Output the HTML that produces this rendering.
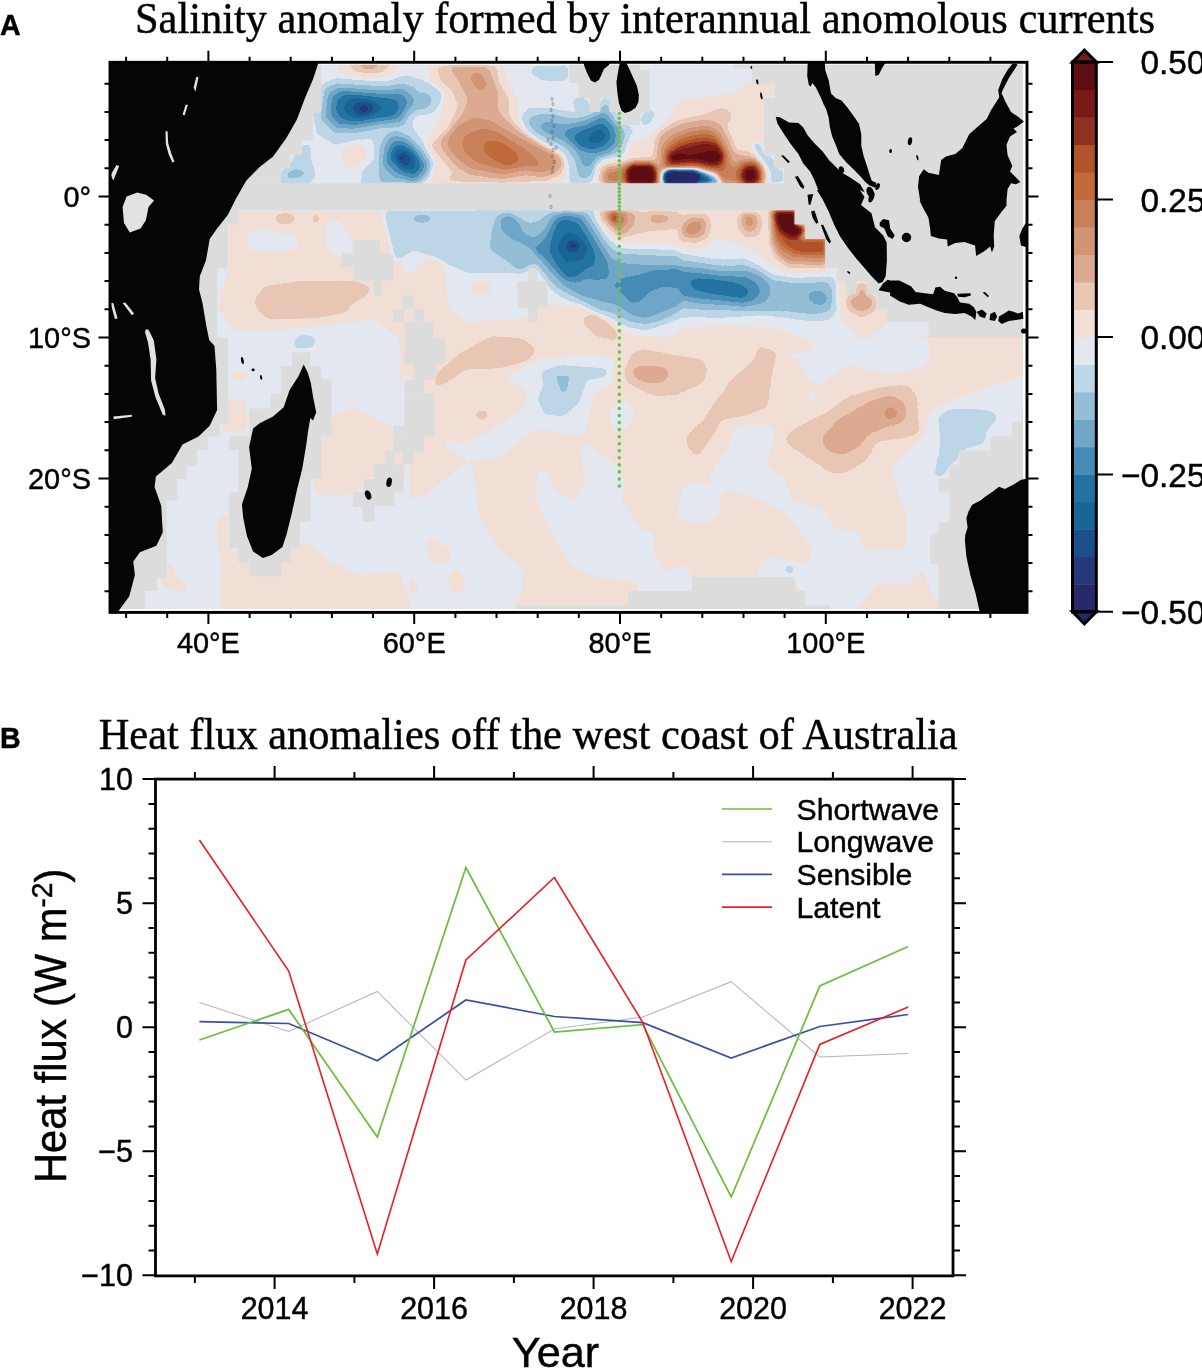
<!DOCTYPE html>
<html><head><meta charset="utf-8"><title>Figure</title>
<style>html,body{margin:0;padding:0;background:#fff;}svg{display:block;}text{font-family:"Liberation Sans",sans-serif;fill:#000;stroke:#000;stroke-width:0.45px;opacity:0.999;}.ser{font-family:"Liberation Serif",serif;}</style></head><body>
<svg width="1202" height="1371" viewBox="0 0 1202 1371">
<defs>
<filter id="cm" x="0" y="0" width="100%" height="100%" filterUnits="userSpaceOnUse" color-interpolation-filters="sRGB">
<feComponentTransfer>
<feFuncR type="discrete" tableValues="0.1529 0.1451 0.1059 0.0902 0.1333 0.2745 0.4392 0.5843 0.7373 0.8902 0.9490 0.9098 0.8627 0.8235 0.7882 0.7529 0.6902 0.5608 0.4784 0.3686"/>
<feFuncG type="discrete" tableValues="0.1569 0.2196 0.3059 0.3922 0.4510 0.5451 0.6549 0.7412 0.8431 0.9098 0.8745 0.7843 0.6667 0.5804 0.5020 0.4196 0.3216 0.1843 0.1020 0.0549"/>
<feFuncB type="discrete" tableValues="0.4157 0.4784 0.5412 0.5882 0.6392 0.7098 0.7843 0.8431 0.9059 0.9373 0.8353 0.7020 0.5686 0.4588 0.3490 0.2157 0.1647 0.1294 0.0863 0.0706"/>
</feComponentTransfer>
<feGaussianBlur stdDeviation="0.6"/>
</filter>
<filter id="b1_5" x="-50" y="-50" width="1300" height="800" filterUnits="userSpaceOnUse" color-interpolation-filters="sRGB"><feGaussianBlur stdDeviation="1.5"/></filter>
<filter id="b2" x="-50" y="-50" width="1300" height="800" filterUnits="userSpaceOnUse" color-interpolation-filters="sRGB"><feGaussianBlur stdDeviation="2"/></filter>
<filter id="b2_5" x="-50" y="-50" width="1300" height="800" filterUnits="userSpaceOnUse" color-interpolation-filters="sRGB"><feGaussianBlur stdDeviation="2.5"/></filter>
<filter id="b3" x="-50" y="-50" width="1300" height="800" filterUnits="userSpaceOnUse" color-interpolation-filters="sRGB"><feGaussianBlur stdDeviation="3"/></filter>
<filter id="b4" x="-50" y="-50" width="1300" height="800" filterUnits="userSpaceOnUse" color-interpolation-filters="sRGB"><feGaussianBlur stdDeviation="4"/></filter>
<filter id="b6" x="-50" y="-50" width="1300" height="800" filterUnits="userSpaceOnUse" color-interpolation-filters="sRGB"><feGaussianBlur stdDeviation="6"/></filter>
<filter id="b8" x="-50" y="-50" width="1300" height="800" filterUnits="userSpaceOnUse" color-interpolation-filters="sRGB"><feGaussianBlur stdDeviation="8"/></filter>
<clipPath id="mapclip"><rect x="110.0" y="62.3" width="917.0" height="550.1"/></clipPath>
<clipPath id="dataclip"><rect x="110.0" y="64.8" width="913.0" height="544.2"/></clipPath>
</defs>
<rect x="0" y="0" width="1202" height="1371" fill="#fff"/>
<g clip-path="url(#dataclip)">
<g filter="url(#cm)"><rect x="105.0" y="57.3" width="927.0" height="560.1" fill="#797979"/><g filter="url(#b2_5)"><polygon points="238.3,211.5 383.7,211.5 393.3,249.8 408.6,276.5 425.8,257.4 444.9,265.1 448.8,309.1 467.9,322.5 525.3,318.6 536.8,303.3 582.7,309.1 617.1,328.2 660.0,332.0 660.0,437.3 632.5,429.6 621.0,406.7 605.7,418.1 582.7,437.3 536.8,429.6 536.8,372.2 521.5,379.9 483.2,379.9 444.9,387.5 429.6,391.4 414.3,368.4 399.0,383.7 400.9,360.7 399.0,337.8 372.2,318.6 326.3,326.3 276.5,330.1 234.4,330.1 217.2,307.2 228.7,268.9 228.7,223.0" fill="#868686"/><polygon points="245.9,234.4 265.1,228.7 295.7,236.4 299.5,247.8 276.5,251.7 247.8,249.8" fill="#797979"/><polygon points="326.3,223.0 337.8,219.1 353.1,242.1 349.3,257.4 330.1,253.6 324.4,238.3" fill="#797979"/><polygon points="467.9,286.1 479.4,281.1 490.9,286.1 488.9,293.8 473.6,295.7" fill="#797979"/><polygon points="326.3,429.6 333.9,414.3 353.1,406.7 391.4,425.8 395.2,444.9 406.7,464.1 402.8,490.9 372.2,475.5 353.1,494.7 314.8,494.7 312.9,467.9" fill="#868686"/><polygon points="223.0,552.1 295.7,544.4 307.2,540.6 326.3,559.7 360.7,575.0 399.0,571.2 408.6,598.0 418.1,590.4 410.5,609.5 219.1,609.5" fill="#868686"/><polygon points="467.9,464.1 475.5,460.2 506.2,452.6 533.0,429.6 582.7,437.3 605.7,418.1 621.0,406.7 632.5,429.6 660.0,444.9 660.0,582.7 640.1,578.9 582.7,544.4 563.6,506.2 544.4,467.9 536.8,490.9 544.4,525.3 575.0,563.6 601.8,582.7 632.5,590.4 621.0,609.5 517.6,609.5 506.2,544.4 483.2,498.5" fill="#868686"/><polygon points="471.7,464.1 444.9,490.9 422.0,517.6 416.2,502.3 429.6,483.2 464.1,464.1" fill="#868686"/><polygon points="425.8,536.8 448.8,544.4 464.1,559.7 460.2,590.4 448.8,594.2 444.9,567.4 429.6,555.9" fill="#868686"/><polygon points="230.6,372.2 245.9,372.2 245.9,381.8 232.5,379.9" fill="#868686"/><polygon points="223.0,399.0 245.9,399.0 247.8,429.6 223.0,433.4" fill="#868686"/><polygon points="159.9,577.6 169.2,559.0 177.2,577.6 187.9,585.6 185.2,592.2 166.6,589.6" fill="#868686"/><polygon points="217.1,516.4 227.8,513.7 227.8,551.0 222.5,569.6 217.1,543.0" fill="#868686"/><polygon points="410.0,330.0 730.0,330.0 730.0,608.2 410.0,608.2" fill="#868686"/><polygon points="505.8,377.9 535.1,359.3 596.4,354.0 615.0,359.3 612.3,383.2 593.7,393.9 585.7,431.2 575.1,436.5 537.8,428.5 497.9,457.8 468.6,460.5 444.6,447.1 447.3,437.8 460.6,444.5 489.9,431.2 524.5,407.2 527.1,391.2" fill="#797979"/><polygon points="410.0,500.4 426.0,495.1 441.9,481.8 467.2,461.8 473.9,468.4 479.2,516.4 497.9,548.3 524.5,569.6 521.8,590.9 512.5,608.2 410.0,608.2 410.0,593.6 420.6,592.2 410.0,569.6" fill="#797979"/><polygon points="426.0,535.0 449.9,548.3 452.6,559.0 441.9,564.3 428.6,559.0" fill="#868686"/><polygon points="447.3,577.6 457.9,567.0 465.9,580.3 463.2,593.6 452.6,593.6" fill="#868686"/><polygon points="537.8,468.4 548.4,473.8 553.8,489.7 575.1,501.7 585.7,479.1 579.1,452.5 583.1,441.8 617.7,465.8 625.7,484.4 620.3,497.7 639.0,527.0 654.9,535.0 652.3,551.0 665.6,572.3 684.2,564.3 692.2,574.9 692.2,608.2 631.0,608.2 639.0,582.9 596.4,577.6 569.7,564.3 548.4,527.0 535.1,497.7" fill="#797979"/><polygon points="609.7,409.9 623.0,400.6 636.3,409.9 628.3,425.8 617.7,432.5 609.7,420.5" fill="#797979"/><polygon points="676.2,516.4 681.6,489.7 692.2,481.8 718.8,487.1 721.5,513.7 702.9,524.4" fill="#797979"/><polygon points="623.0,330.0 710.9,330.0 702.9,338.0 636.3,335.3" fill="#797979"/><polygon points="720.0,330.0 1026.2,330.0 1026.2,610.9 720.0,610.9" fill="#868686"/><polygon points="781.2,330.0 927.7,330.0 930.3,356.6 922.3,367.3 890.4,375.3 847.8,364.6 818.5,385.9 807.9,380.6 799.9,361.9 786.6,354.0 815.8,351.3 807.9,340.6" fill="#797979"/><polygon points="733.3,429.8 740.0,425.0 771.4,425.0 774.8,433.3 771.4,449.8 766.6,459.9 769.8,469.8 784.7,478.3 786.6,484.4 791.9,500.4 826.5,511.0 831.8,527.0 858.4,532.3 863.8,551.0 906.4,548.3 906.4,516.4 890.4,468.4 906.4,452.5 922.3,436.5 930.3,409.9 959.6,396.6 1026.2,375.3 1026.2,463.1 975.6,463.1 959.6,495.1 951.6,495.1 949.0,521.7 930.3,535.0 930.3,564.3 938.3,564.3 938.3,610.9 922.3,569.6 906.4,585.6 877.1,582.9 858.4,606.9 805.2,610.9 794.5,577.6 754.6,576.3 765.3,556.3 807.9,564.3 813.2,548.3 786.6,513.7 759.9,500.4 744.0,495.1 728.0,489.7 717.3,500.4 709.4,479.1 714.9,465.0 726.7,451.4 731.4,438.1" fill="#797979"/><polygon points="807.9,393.9 813.2,389.9 815.8,399.2 810.5,403.2" fill="#797979"/><polygon points="426.0,255.0 441.9,252.3 447.3,289.6 439.3,339.9 410.0,339.9 410.0,289.6" fill="#868686"/><polygon points="468.6,284.3 487.2,281.6 489.9,292.3 471.2,294.9" fill="#868686"/><polygon points="551.1,310.9 580.4,304.3 612.3,316.2 617.7,339.9 551.1,339.9" fill="#868686"/><polygon points="676.2,329.6 730.0,324.2 730.0,339.9 676.2,339.9" fill="#868686"/></g><g filter="url(#b4)"><polygon points="596.4,209.7 713.5,209.7 713.5,233.7 676.2,244.4 631.0,244.4 601.7,236.4" fill="#868686"/><polygon points="720.0,209.7 826.5,209.7 826.5,271.0 773.2,268.3 759.9,252.3 736.0,241.7 720.0,236.4" fill="#868686"/></g><g filter="url(#b2_5)"><polygon points="839.8,281.6 887.7,281.6 887.7,321.6 879.7,332.2 853.1,332.2 839.8,316.2" fill="#868686"/><polygon points="839.8,336.2 1026.2,336.2 1026.2,339.9 839.8,339.9" fill="#868686"/></g><g filter="url(#b4)"><polygon points="631.0,185.0 634.0,150.0 660.0,130.0 700.0,106.0 730.0,100.0 765.0,103.0 765.0,185.0" fill="#868686"/><polygon points="342.3,153.8 352.9,145.8 366.2,147.2 364.9,159.2 350.3,167.1 342.8,163.2" fill="#868686"/><polygon points="426.0,183.1 428.6,137.9 439.3,116.6 444.6,76.6 436.6,64.6 497.9,64.6 516.5,103.2 537.8,137.9 567.1,156.5 569.7,172.5 559.1,183.1" fill="#868686"/></g><g filter="url(#b2_5)"><polygon points="336.6,70.0 341.6,60.0 401.5,60.0 394.8,73.3 379.8,78.3 359.9,76.6 341.6,74.1" fill="#868686"/><polygon points="347.4,60.0 394.0,60.0 383.2,72.5 366.5,73.3 353.2,70.8" fill="#939393"/><polygon points="357.4,60.0 382.3,60.0 373.2,69.7 363.2,69.2" fill="#9f9f9f"/><polygon points="342.4,153.2 346.6,148.2 359.9,144.9 366.5,147.4 363.2,158.2 354.9,166.5 344.9,166.5" fill="#868686"/><polygon points="426.7,65.0 503.2,65.0 506.5,85.0 516.5,98.3 514.8,114.9 526.5,131.5 543.1,143.2 563.1,153.2 570.6,163.2 563.9,176.5 549.8,184.0 445.0,184.0 441.6,166.5 425.0,146.5 438.3,129.9 451.6,104.9 446.6,93.3 430.0,81.6" fill="#868686"/><polygon points="436.6,65.0 496.5,65.0 499.9,85.0 509.9,99.9 508.2,114.9 519.8,129.9 539.8,141.5 561.4,153.2 566.8,163.2 560.1,174.8 546.5,181.0 503.2,183.1 469.9,183.1 446.6,180.1 453.3,173.1 445.0,163.2 430.0,144.9 446.6,129.9 458.3,106.6 453.3,91.6 440.0,80.0" fill="#939393"/><polygon points="448.3,65.0 486.6,65.0 493.2,80.0 498.2,93.3 498.2,111.6 513.2,126.6 533.1,138.2 556.4,153.2 563.1,163.2 556.4,173.1 543.1,177.3 526.5,174.8 503.2,179.0 483.2,176.5 469.9,174.8 456.6,166.5 441.6,148.2 440.0,139.9 450.0,129.9 463.3,113.2 468.3,98.3 459.9,83.3" fill="#9f9f9f"/><polygon points="470.7,75.0 476.6,71.6 484.1,76.6 486.6,85.0 483.2,91.6 476.6,89.1 471.6,81.6" fill="#acacac"/><polygon points="448.3,138.2 456.6,126.6 473.2,117.4 489.9,119.9 506.5,129.9 526.5,141.5 549.8,153.2 558.1,161.5 553.1,169.8 539.8,173.1 523.2,169.8 503.2,174.8 486.6,171.5 469.9,168.2 456.6,158.2 447.5,146.5" fill="#acacac"/><polygon points="461.6,139.9 468.3,133.2 483.2,128.2 496.5,131.5 513.2,141.5 526.5,149.9 536.5,158.2 539.8,166.5 526.5,166.5 506.5,169.8 489.9,166.5 474.9,161.5 464.1,151.5" fill="#b9b9b9"/><polygon points="482.4,144.9 488.2,139.9 499.9,141.5 513.2,149.9 519.8,156.5 516.5,163.2 506.5,166.5 493.2,159.8 484.9,153.2" fill="#c6c6c6"/><polygon points="313.3,113.2 321.6,85.0 334.9,78.3 359.9,80.0 386.5,81.6 406.5,75.0 423.1,81.6 439.7,91.6 441.4,99.9 429.8,108.3 416.4,113.2 411.4,126.6 426.4,146.5 434.7,163.2 429.8,176.5 419.8,184.0 359.9,184.0 363.2,169.8 374.8,159.8 373.2,138.2 354.9,139.9 334.9,144.9 316.6,133.2" fill="#6c6c6c"/><polygon points="320.8,119.9 324.1,88.3 336.6,83.3 359.9,85.0 383.2,86.6 403.1,83.3 421.4,90.0 431.4,99.9 418.1,109.9 408.1,116.6 403.1,126.6 379.8,128.2 354.9,133.2 334.9,133.2" fill="#606060"/><polygon points="324.9,116.6 328.3,93.3 338.2,87.5 359.9,89.1 383.2,90.8 403.1,89.1 416.4,99.9 406.5,111.6 401.5,121.6 379.8,124.1 354.9,128.2 336.6,128.2" fill="#535353"/><polygon points="329.9,113.2 332.4,96.6 341.6,90.8 359.9,92.4 383.2,94.1 401.5,93.3 408.1,101.6 403.1,113.2 396.5,119.1 379.8,120.7 354.9,124.9 338.2,124.1" fill="#464646"/><polygon points="335.7,109.9 337.4,99.1 346.6,94.1 363.2,95.8 383.2,97.4 398.1,99.9 399.0,109.9 393.1,116.6 379.8,118.2 354.9,121.6 341.6,119.1" fill="#393939"/><polygon points="343.2,108.3 345.7,100.8 354.9,97.4 369.9,99.1 379.8,104.9 383.2,108.3 373.2,114.9 359.9,119.1 348.2,115.7" fill="#2d2d2d"/><polygon points="351.5,108.3 354.9,103.3 364.9,101.6 373.2,105.8 374.8,109.1 368.2,114.1 358.2,115.7" fill="#202020"/><ellipse cx="364.5" cy="108.8" rx="5.7" ry="4.3" fill="#131313"/><polygon points="378.2,169.8 379.8,146.5 386.5,133.2 396.5,130.7 408.1,134.9 421.4,148.2 431.4,163.2 428.1,176.5 418.1,184.0 379.8,184.0" fill="#606060"/><polygon points="383.2,166.5 384.0,148.2 389.8,137.4 398.1,135.7 408.1,139.9 419.8,151.5 428.1,164.8 424.8,174.8 414.8,181.5 393.1,176.5" fill="#535353"/><polygon points="386.5,163.2 387.3,149.9 393.1,141.5 401.5,140.7 411.4,146.5 419.8,156.5 424.8,166.5 421.4,173.1 413.1,179.0 396.5,173.1" fill="#464646"/><polygon points="390.6,159.8 391.5,150.7 396.5,144.9 403.1,144.9 413.1,151.5 419.8,161.5 420.6,168.2 414.8,174.8 403.1,171.5" fill="#393939"/><polygon points="394.0,158.2 394.8,151.5 399.8,148.2 406.5,149.9 414.8,158.2 416.4,166.5 411.4,170.6 403.1,168.2" fill="#2d2d2d"/><ellipse cx="404.5" cy="159.3" rx="6.0" ry="7.3" fill="#202020" transform="rotate(-35 404.5 159.3)"/></g><g filter="url(#b1_5)"><ellipse cx="401.5" cy="158.2" rx="2.3" ry="2.3" fill="#131313"/></g><g filter="url(#b2_5)"><polygon points="280.0,176.5 281.7,169.8 290.0,166.5 293.3,158.2 301.6,146.5 306.6,143.2 310.8,146.5 310.0,156.5 313.3,166.5 315.8,174.8 310.0,184.0 280.0,184.0" fill="#6c6c6c"/><polygon points="286.7,173.1 296.6,168.2 306.6,172.3 301.6,177.3 287.5,179.0" fill="#606060"/><polygon points="416.7,83.3 430.0,85.0 441.6,94.9 436.6,109.9 425.0,114.9 416.7,114.9" fill="#6c6c6c"/><polygon points="416.7,91.6 428.3,93.3 432.5,99.9 428.3,108.3 416.7,109.9" fill="#606060"/><polygon points="529.0,71.6 536.5,65.8 568.1,65.8 568.1,78.3 561.4,81.6 541.5,80.0" fill="#6c6c6c"/><polygon points="519.0,116.6 528.2,108.3 544.8,107.4 569.8,111.6 579.7,114.9 572.2,103.3 576.4,97.4 586.4,99.1 591.4,108.3 599.7,108.3 601.4,98.3 609.7,98.3 611.3,109.9 617.2,109.9 600.0,98.3 610.0,98.3 611.6,110.0 623.3,121.6 634.1,129.9 629.9,136.6 625.8,143.2 624.9,154.9 615.0,159.9 600.0,163.2 590.0,166.5 617.2,159.8 603.0,163.2 596.4,176.5 586.4,184.0 569.8,184.0 568.1,166.5 563.1,153.2 543.1,143.2 526.5,131.5" fill="#6c6c6c"/><polygon points="527.3,121.6 533.1,114.9 546.5,113.2 569.8,118.2 586.4,116.6 599.7,109.9 603.0,103.3 608.0,103.3 609.7,111.6 617.2,113.2 603.3,108.3 608.3,108.3 610.8,118.3 621.6,126.6 625.8,134.9 622.4,146.6 611.6,154.9 596.7,159.9 617.2,158.2 599.7,159.8 593.0,173.1 584.7,179.8 578.1,176.5 574.7,159.8 564.8,146.5 546.5,138.2 534.8,131.5" fill="#606060"/><polygon points="538.1,126.6 546.5,121.6 566.4,124.9 586.4,119.9 601.4,113.2 617.2,114.9 606.6,115.8 616.6,124.9 620.8,134.9 618.3,146.6 608.3,153.2 595.0,156.5 617.2,154.8 596.4,156.5 589.7,166.5 583.1,166.5 578.1,153.2 566.4,141.5 549.8,134.9" fill="#535353"/><polygon points="563.1,133.2 569.8,128.2 586.4,124.9 603.0,116.6 617.2,117.4 603.3,117.4 612.5,125.8 616.6,134.9 613.3,145.7 603.3,150.7 617.2,149.9 593.0,153.2 579.7,149.9 569.8,141.5" fill="#464646"/><polygon points="573.1,136.5 579.7,131.5 593.0,126.6 604.7,121.6 614.7,124.1 600.0,121.6 608.3,128.3 610.8,135.7 606.6,144.1 596.7,148.2 614.7,143.2 591.4,149.9 579.7,146.5" fill="#393939"/><polygon points="586.4,141.5 593.0,131.5 601.4,128.2 611.3,128.2 596.7,128.3 604.1,131.6 606.6,136.6 601.6,142.4 590.0,144.9 608.0,141.5 596.4,144.0" fill="#2d2d2d"/><polygon points="641.6,114.9 651.6,109.1 654.9,113.3 651.6,121.6 643.2,126.6 640.7,119.9" fill="#6c6c6c"/></g><g filter="url(#b3)"><polygon points="629.1,151.5 633.3,141.6 648.2,138.2 659.9,129.9 669.9,116.6 679.9,100.0 706.5,96.6 733.1,93.3 743.1,86.7 746.4,82.5 774.7,82.5 774.7,96.6 764.7,96.6 764.7,184.8 596.7,184.8 596.7,166.5 606.6,159.9 623.3,159.9" fill="#868686"/><polygon points="656.6,138.2 661.5,129.9 681.5,119.9 706.5,114.1 713.1,110.0 724.8,107.5 733.4,114.1 725.6,127.4 730.6,136.6 736.4,151.5 746.4,151.5 756.4,156.5 763.9,166.5 763.9,184.0 598.3,184.0 598.3,169.9 606.6,163.2 624.9,163.2 631.6,159.9 653.2,158.2" fill="#939393"/><polygon points="656.6,139.9 663.2,131.6 681.5,122.4 706.5,119.1 721.4,124.9 728.1,136.6 734.8,153.2 744.7,154.9 756.4,159.9 763.0,169.9 763.0,184.0 656.6,184.0" fill="#9f9f9f"/><polygon points="663.2,146.6 673.2,136.6 689.8,129.9 706.5,127.4 716.5,131.6 723.1,141.6 728.9,154.9 731.4,166.5 739.8,163.2 749.7,161.5 759.7,166.5 762.2,174.8 761.4,184.0 663.2,184.0" fill="#b9b9b9"/><polygon points="665.7,151.5 676.5,142.4 691.5,137.4 706.5,134.9 714.8,138.2 721.4,146.6 725.6,156.5 723.1,169.9 663.2,169.9" fill="#d2d2d2"/></g><g filter="url(#b2_5)"><polygon points="667.4,155.7 678.2,148.2 693.2,144.1 706.5,141.9 716.5,144.1 722.3,153.2 721.4,163.2 713.1,164.9 698.2,161.5 683.2,161.5 673.2,163.2" fill="#ececec"/></g><g filter="url(#b2)"><polygon points="668.2,158.2 676.5,153.2 689.8,154.9 706.5,151.5 716.5,149.9 721.4,154.9 719.8,161.5 713.1,163.2 698.2,159.9 683.2,159.9 673.2,161.5" fill="#f9f9f9"/></g><g filter="url(#b3)"><polygon points="604.1,173.2 608.3,169.0 618.3,168.2 623.3,164.9 656.6,164.0 658.2,184.0 604.1,184.0" fill="#b9b9b9"/><polygon points="625.8,167.4 633.3,163.2 651.6,163.2 656.6,168.2 657.4,184.0 624.9,184.0" fill="#dfdfdf"/></g><g filter="url(#b2)"><polygon points="627.4,169.9 632.4,165.2 650.7,165.2 654.9,169.9 655.2,184.0 627.4,184.0" fill="#f9f9f9"/><polygon points="660.7,173.2 664.9,167.9 696.5,167.4 716.5,173.2 723.1,184.0 660.7,184.0" fill="#797979"/><polygon points="663.2,174.0 668.2,169.9 694.8,169.9 709.8,174.8 718.1,180.7 718.1,184.0 663.2,184.0" fill="#464646"/><polygon points="664.0,174.8 669.0,170.7 694.0,170.7 704.8,175.7 709.8,181.5 709.8,184.0 664.0,184.0" fill="#202020"/></g><g filter="url(#b1_5)"><polygon points="664.9,174.0 669.9,170.7 693.2,171.2 700.1,175.2 699.0,180.7 694.8,184.0 665.7,184.0" fill="#060606"/></g><g filter="url(#b3)"><polygon points="738.1,169.9 743.1,163.2 753.1,161.5 760.5,168.2 761.4,184.0 738.1,184.0" fill="#d2d2d2"/></g><g filter="url(#b2_5)"><polygon points="742.7,173.2 745.6,167.4 753.9,166.5 757.7,172.3 757.2,182.3 743.9,182.8" fill="#f9f9f9"/></g><g filter="url(#b2)"><polygon points="751.4,143.2 758.1,141.6 763.0,146.6 764.7,153.2 773.0,158.2 774.7,168.2 783.0,169.9 783.0,182.3 771.4,182.3 770.5,169.9 763.9,163.2 756.4,153.2" fill="#6c6c6c"/></g><g filter="url(#b2_5)"><polygon points="476.7,210.0 596.5,210.0 594.8,218.3 603.1,230.0 613.1,243.3 619.8,248.3 680.0,249.9 680.0,253.3 696.6,256.6 721.6,259.9 743.2,258.2 754.9,263.2 773.2,274.9 796.5,278.2 829.8,276.5 835.6,280.7 837.2,291.5 836.4,311.5 829.8,319.8 813.1,321.5 788.2,318.1 763.2,314.8 738.2,316.5 713.3,318.1 696.6,316.5 680.0,318.1 680.0,318.1 663.0,324.8 646.4,329.8 629.8,328.1 613.1,319.8 596.5,313.2 579.8,304.8 559.9,296.5 549.9,288.2 538.2,268.2 528.3,268.2 519.9,273.2 500.0,271.6 476.7,273.2" fill="#6c6c6c"/><polygon points="383.7,211.5 494.7,211.5 490.9,253.6 529.1,272.7 467.9,272.7 414.3,249.8 395.2,261.2 387.5,230.6" fill="#6c6c6c"/><ellipse cx="422.0" cy="218.4" rx="9.6" ry="4.6" fill="#606060"/><polygon points="490.0,243.3 491.6,230.0 496.6,215.0 506.6,212.5 519.9,218.3 529.9,223.3 539.9,220.0 549.9,211.7 586.5,211.7 593.1,221.6 603.1,238.3 613.1,249.9 621.4,253.3 646.4,254.9 680.0,256.6 680.0,259.9 700.0,262.4 723.3,265.7 744.9,264.9 758.2,269.9 773.2,279.9 796.5,283.2 826.4,281.5 832.2,288.2 833.1,298.2 829.8,311.5 813.1,314.8 788.2,311.5 763.2,311.5 743.2,311.5 721.6,309.8 696.6,309.8 680.0,308.2 680.0,311.5 663.0,319.8 646.4,324.8 629.8,321.5 616.4,314.8 596.5,308.2 579.8,299.8 563.2,291.5 551.5,283.2 543.2,273.2 534.9,263.2 519.9,271.6 505.0,259.9 490.0,249.9" fill="#606060"/><polygon points="500.0,223.3 503.3,216.6 511.6,215.0 518.3,221.6 523.3,233.3 534.9,238.3 546.6,226.6 553.2,215.0 566.5,212.0 583.2,215.0 593.1,230.0 603.1,246.6 613.1,259.9 621.4,263.2 646.4,264.9 680.0,266.6 680.0,266.6 700.0,268.2 723.3,271.6 746.6,270.7 761.5,276.5 769.9,284.9 770.7,294.9 763.2,303.2 746.6,306.5 721.6,304.8 696.6,303.2 680.0,299.8 680.0,304.8 663.0,311.5 646.4,318.1 633.1,315.6 616.4,304.8 596.5,299.8 579.8,294.9 563.2,284.9 553.2,274.9 544.9,264.9 533.2,249.9 521.6,243.3 510.0,238.3 501.6,230.0" fill="#535353"/><polygon points="806.5,296.5 813.1,290.7 823.1,291.5 828.1,298.2 824.8,304.8 814.8,304.8" fill="#535353"/><polygon points="533.2,249.9 546.6,236.6 553.2,221.6 563.2,215.0 579.8,216.6 589.8,231.6 599.8,248.3 608.1,263.2 609.0,278.2 596.5,279.9 586.5,278.2 576.5,283.2 566.5,279.9 556.5,271.6 546.6,259.9" fill="#464646"/><polygon points="613.1,284.9 621.4,278.2 638.1,274.9 654.7,269.9 680.0,268.2 680.0,271.6 700.0,273.2 723.3,276.5 744.9,276.5 756.5,283.2 760.7,291.5 754.9,299.8 743.2,303.2 721.6,300.7 696.6,298.2 680.0,294.9 680.0,288.2 663.0,286.5 649.7,291.5 639.7,301.5 631.4,303.2 623.1,294.9" fill="#464646"/><polygon points="549.1,249.9 553.2,233.3 558.2,221.6 566.5,219.1 578.2,223.3 586.5,236.6 594.8,253.3 594.8,264.9 586.5,268.2 576.5,276.5 566.5,278.2 556.5,264.9" fill="#393939"/><polygon points="688.3,283.2 695.0,278.2 713.3,279.0 734.9,282.4 746.6,287.4 749.1,292.4 743.2,298.2 729.9,296.5 710.0,293.2 695.0,289.9" fill="#393939"/><polygon points="557.4,246.6 561.5,236.6 569.9,231.6 578.2,235.8 584.8,243.3 588.2,249.9 583.2,259.9 566.5,263.2 559.9,254.9" fill="#2d2d2d"/></g><g filter="url(#b2)"><polygon points="565.7,246.6 568.2,241.6 574.8,239.9 579.8,244.9 579.0,249.9 573.2,252.4 567.4,250.8" fill="#202020"/></g><g filter="url(#b1_5)"><ellipse cx="573.2" cy="245.9" rx="3.0" ry="2.7" fill="#131313"/></g><g filter="url(#b2_5)"><polygon points="596.5,210.0 680.0,210.0 680.0,235.0 654.7,235.8 634.7,238.3 621.4,240.8 613.1,235.0 603.1,223.3" fill="#868686"/><polygon points="678.3,210.0 796.5,210.0 796.5,238.3 826.4,238.3 826.4,271.9 786.5,271.9 773.2,261.6 766.5,261.6 759.9,253.3 746.6,244.9 734.9,238.3 716.6,239.9 705.0,249.1 678.3,250.3" fill="#868686"/><polygon points="598.1,210.8 680.0,210.8 680.0,228.3 663.0,230.0 646.4,231.6 633.1,235.0 621.4,238.3 611.4,230.0 601.5,220.0" fill="#939393"/><polygon points="601.5,211.3 634.7,211.3 634.7,223.3 626.4,233.3 619.8,235.8 613.1,228.3 604.8,220.0" fill="#9f9f9f"/><polygon points="649.7,216.6 654.7,214.2 668.0,215.8 669.7,220.8 656.4,223.3 650.5,221.6" fill="#9f9f9f"/><polygon points="606.5,211.7 624.8,211.7 626.4,221.6 619.8,228.3 613.1,225.0" fill="#b9b9b9"/></g><g filter="url(#b2)"><polygon points="609.8,213.3 618.1,213.3 618.4,221.6 612.3,222.5" fill="#d2d2d2"/></g><g filter="url(#b2_5)"><polygon points="678.3,216.6 690.0,213.3 708.3,214.2 711.6,225.0 708.3,238.3 696.6,243.3 678.3,241.6" fill="#939393"/><polygon points="681.7,226.6 690.0,218.3 701.6,217.5 706.6,225.0 703.3,235.0 693.3,238.3 683.3,235.0" fill="#9f9f9f"/><polygon points="683.3,228.3 691.6,221.6 700.8,220.8 702.5,228.3 696.6,235.0 686.7,235.8" fill="#acacac"/><polygon points="736.6,221.6 739.9,212.5 759.9,212.5 763.2,225.0 758.2,236.6 746.6,238.3 739.9,231.6" fill="#939393"/><polygon points="740.7,218.3 744.9,213.0 754.9,213.7 758.2,223.3 753.2,231.6 744.9,230.0" fill="#9f9f9f"/><polygon points="744.1,216.6 751.5,215.0 754.0,223.3 749.9,229.1 745.7,225.0" fill="#acacac"/><polygon points="769.0,210.0 796.5,210.0 796.5,238.3 826.4,238.3 826.4,268.6 788.2,267.9 775.7,258.2 769.9,244.9" fill="#939393"/><polygon points="771.5,210.0 796.5,210.0 796.5,238.3 826.4,238.3 826.4,263.6 789.8,262.6 778.2,254.9 772.3,241.6" fill="#acacac"/><polygon points="773.2,210.0 796.5,210.0 796.5,238.3 826.4,238.3 826.4,256.9 793.1,255.2 781.5,248.3 774.0,235.0" fill="#c6c6c6"/><polygon points="774.2,210.0 796.5,210.0 796.5,238.3 825.6,239.1 825.6,252.4 799.8,252.4 786.5,244.9 776.5,230.0" fill="#d2d2d2"/><polygon points="774.5,210.0 796.5,210.0 796.5,225.0 803.5,225.8 804.5,233.6 796.8,238.6 788.2,236.9 779.8,230.3 775.2,221.6" fill="#f9f9f9"/><polygon points="838.1,280.7 878.8,280.7 878.8,321.5 863.0,336.4 846.4,321.5 839.7,304.8" fill="#868686"/><polygon points="845.6,299.8 848.1,295.7 856.4,293.2 857.2,283.2 866.4,282.4 867.2,293.2 874.7,295.7 877.2,301.5 874.7,311.5 863.0,318.1 851.4,313.2 846.4,306.5" fill="#939393"/><polygon points="849.7,301.5 853.0,297.3 858.9,295.7 859.7,288.2 864.7,288.2 865.5,295.7 871.3,298.2 873.0,303.2 869.7,308.2 861.4,311.5 853.0,308.2" fill="#9f9f9f"/><polygon points="478.3,283.2 490.0,283.2 491.6,289.9 478.3,294.9" fill="#868686"/><polygon points="534.9,311.5 549.9,304.8 566.5,306.5 586.5,311.5 606.5,321.5 618.1,329.8 626.4,336.4 478.3,336.4 478.3,323.1 505.0,324.8 521.6,326.5" fill="#868686"/><polygon points="583.2,319.8 593.1,315.6 603.1,319.8 613.1,328.1 616.4,336.4 596.5,336.4 586.5,326.5" fill="#939393"/><polygon points="713.3,331.5 738.2,326.5 771.5,328.1 796.5,336.4 713.3,336.4" fill="#868686"/></g><g filter="url(#b3)"><polygon points="253.6,299.5 265.1,286.1 299.5,281.1 353.1,280.4 370.3,286.1 368.4,295.7 353.1,303.3 345.4,312.9 314.8,318.6 268.9,319.4 257.4,311.0" fill="#939393"/></g><g filter="url(#b2_5)"><ellipse cx="285.0" cy="218.4" rx="10.7" ry="6.1" fill="#939393"/><ellipse cx="315.6" cy="218.4" rx="3.8" ry="5.4" fill="#939393"/></g><g filter="url(#b3)"><polygon points="433.4,387.5 437.3,372.2 460.2,353.1 490.9,335.9 521.5,337.8 536.8,349.3 529.1,360.7 498.5,368.4 467.9,368.4 444.9,383.7" fill="#939393"/><polygon points="623.0,375.3 631.0,354.0 641.6,348.6 676.2,355.3 702.9,359.3 708.2,369.9 702.9,383.2 676.2,395.2 657.6,396.6 641.6,391.2 628.3,383.2" fill="#939393"/><polygon points="632.3,369.9 639.0,365.9 665.6,367.3 669.6,376.6 660.3,383.2 644.3,381.9 633.6,376.6" fill="#9f9f9f"/><polygon points="757.3,346.0 777.2,351.3 770.6,383.2 767.9,407.2 746.6,415.2 720.0,420.5 716.2,431.2 697.5,457.8 686.9,447.1 685.6,436.5 702.9,420.5 716.2,399.2 730.0,385.9 720.0,391.2 736.0,375.3 754.6,359.3" fill="#939393"/><polygon points="786.6,433.8 799.9,425.8 826.5,412.5 847.8,396.6 879.7,387.2 906.4,384.6 917.0,393.9 918.3,420.5 919.7,433.8 906.4,437.8 877.1,441.8 866.4,460.5 847.8,472.4 831.8,473.8 815.8,463.1 799.9,452.5 786.6,444.5" fill="#939393"/><polygon points="821.2,439.2 837.1,420.5 869.1,401.9 890.4,395.2 903.7,401.9 906.4,415.2 901.0,423.2 885.1,427.2 869.1,433.8 858.4,447.1 842.5,455.1 826.5,449.8" fill="#9f9f9f"/></g><g filter="url(#b2_5)"><ellipse cx="890.9" cy="413.1" rx="6.9" ry="6.4" fill="#acacac"/><polygon points="582.7,318.6 594.2,314.8 617.1,333.9 615.2,341.6 598.0,333.9" fill="#939393"/><ellipse cx="482.1" cy="414.7" rx="6.1" ry="4.6" fill="#939393"/><ellipse cx="481.9" cy="415.2" rx="6.4" ry="4.8" fill="#939393"/><polygon points="540.6,372.2 559.7,365.3 605.7,368.4 607.6,376.0 586.5,379.9 578.9,402.8 563.6,416.2 544.4,414.3 537.5,399.0 544.4,383.7" fill="#6c6c6c"/></g><g filter="url(#b1_5)"><polygon points="555.9,376.0 569.3,375.3 567.4,389.4 561.7,393.3" fill="#606060"/></g><g filter="url(#b2)"><polygon points="938.4,418.0 946.6,411.0 958.2,408.6 981.5,409.8 993.2,412.1 997.3,418.0 992.0,423.8 986.2,431.9 985.6,440.1 980.4,444.7 969.9,447.1 959.4,451.7 957.1,459.9 950.1,464.5 946.6,471.5 940.8,476.8 934.9,475.6 936.1,465.7 939.0,452.9 940.8,438.9 939.0,428.4" fill="#6c6c6c"/></g><g filter="url(#b2_5)"><polygon points="293.8,339.7 303.3,333.9 314.8,337.8 314.0,347.3 295.7,348.5" fill="#6c6c6c"/><polygon points="785.2,565.6 793.2,565.6 793.2,573.6 786.6,573.6" fill="#6c6c6c"/></g></g>
<g fill="#dcdcdc"><polygon points="220.0,183.3 1030.0,183.3 1030.0,210.3 220.0,210.3"/><polygon points="286.4,60.6 321.0,60.6 321.0,112.6 313.0,112.6 313.0,140.5 302.3,140.5 302.3,155.2 290.4,155.2 290.4,168.5 281.0,168.5 281.0,183.1 206.5,183.1 206.5,129.9"/><polygon points="201.2,207.1 238.4,207.1 238.4,224.4 227.8,224.4 227.8,268.3 217.1,268.3 217.1,342.9 179.9,342.9 179.9,236.4"/><polygon points="201.2,327.3 217.1,327.3 217.1,338.0 227.8,338.0 227.8,423.2 219.8,423.2 219.8,436.5 207.8,436.5 207.8,449.8 197.2,449.8 197.2,465.8 186.5,465.8 186.5,479.1 177.2,479.1 177.2,500.4 166.6,500.4 166.6,577.6 157.2,577.6 157.2,590.9 145.3,590.9 145.3,612.2 110.6,612.2 139.9,543.0 147.9,479.1 179.9,436.5 206.5,420.5"/><polygon points="291.7,352.6 310.3,352.6 310.3,365.9 321.0,365.9 321.0,379.3 331.6,379.3 331.6,436.5 321.0,436.5 321.0,479.1 310.3,479.1 310.3,521.7 299.7,521.7 299.7,548.3 290.4,548.3 290.4,563.0 281.0,563.0 281.0,576.3 249.1,576.3 249.1,563.0 238.4,563.0 238.4,548.3 229.1,548.3 229.1,492.4 238.4,492.4 238.4,449.8 229.1,449.8 229.1,436.5 249.1,436.5 249.1,408.5 270.4,408.5 270.4,393.9 281.0,393.9 281.0,365.9 291.7,365.9"/><polygon points="384.9,451.1 394.2,451.1 394.2,464.5 403.5,464.5 403.5,492.4 394.2,492.4 394.2,505.7 374.2,505.7 374.2,521.7 362.2,521.7 362.2,507.1 352.9,507.1 352.9,492.4 363.6,492.4 363.6,479.1 374.2,479.1 374.2,464.5 384.9,464.5"/><polygon points="394.2,441.8 420.8,441.8 420.8,452.5 394.2,452.5"/><polygon points="353.1,240.2 379.9,240.2 379.9,253.6 393.3,253.6 393.3,280.4 381.8,280.4 381.8,295.7 374.1,295.7 374.1,280.4 353.1,280.4 353.1,267.0 341.6,267.0 341.6,253.6 353.1,253.6"/><polygon points="402.8,295.7 414.3,295.7 414.3,309.1 402.8,309.1"/><polygon points="414.3,309.1 423.9,309.1 423.9,322.5 414.3,322.5"/><polygon points="393.3,309.1 404.0,309.1 404.0,322.5 393.3,322.5"/><polygon points="404.7,322.5 433.4,322.5 433.4,337.8 404.7,337.8"/><polygon points="404.7,337.8 444.9,337.8 444.9,364.6 404.7,364.6"/><polygon points="414.3,364.6 435.4,364.6 435.4,379.9 414.3,379.9"/><polygon points="404.7,379.9 423.9,379.9 423.9,393.3 404.7,393.3"/><polygon points="404.7,393.3 434.2,393.3 434.2,425.8 404.7,425.8"/><polygon points="393.3,425.8 434.2,425.8 434.2,435.4 393.3,435.4"/><polygon points="393.3,435.4 423.9,435.4 423.9,450.7 393.3,450.7"/><polygon points="402.8,450.7 414.3,450.7 414.3,464.1 402.8,464.1"/><polygon points="374.1,464.1 393.3,464.1 393.3,475.5 374.1,475.5"/><polygon points="528.3,268.2 537.4,268.2 537.4,281.5 547.4,281.5 547.4,307.3 537.4,307.3 537.4,322.3 528.3,322.3 528.3,308.2 517.4,308.2 517.4,281.5 528.3,281.5"/><polygon points="569.2,61.0 579.3,61.0 579.3,83.0 569.2,83.0"/><polygon points="578.7,61.0 590.2,61.0 590.2,97.9 578.7,97.9"/><polygon points="589.6,61.0 600.2,61.0 600.2,111.9 589.6,111.9"/><polygon points="599.6,61.0 610.2,61.0 610.2,97.9 599.6,97.9"/><polygon points="609.6,61.0 621.2,61.0 621.2,111.9 609.6,111.9"/><polygon points="620.6,61.0 640.2,61.0 640.2,124.9 620.6,124.9"/><polygon points="639.6,70.0 649.6,70.0 649.6,112.4 639.6,112.4"/><polygon points="733.3,60.6 733.3,68.6 751.9,68.6 751.9,83.3 774.6,83.3 774.6,97.9 763.9,97.9 763.9,155.2 774.6,155.2 774.6,168.5 783.9,168.5 783.9,183.1 783.9,209.7 794.5,209.7 794.5,224.4 805.2,224.4 805.2,239.0 825.2,239.0 825.2,268.3 837.1,268.3 836.9,281.1 845.4,281.1 845.4,294.4 856.3,294.4 856.3,281.1 867.0,281.1 867.0,294.4 876.3,294.4 876.3,308.8 887.2,308.8 887.2,321.6 928.5,321.6 928.5,337.3 1021.7,337.3 1021.7,351.1 1040.0,351.1 1040.0,39.9"/><polygon points="1030.0,407.5 1021.7,407.5 1021.7,421.4 1011.8,421.4 1011.8,436.6 990.8,436.6 990.8,450.6 959.4,450.6 959.4,464.5 949.5,464.5 949.5,479.1 938.4,479.1 938.4,492.5 949.5,492.5 949.5,522.2 938.4,522.2 938.4,535.0 930.0,535.0 930.0,564.0 938.4,564.0 938.4,615.0 1030.0,615.0"/><polygon points="628.0,591.0 692.0,591.0 692.0,577.0 794.5,577.0 794.5,591.0 805.0,591.0 805.0,605.5 830.0,605.5 830.0,615.0 516.0,615.0 516.0,605.8 628.0,605.8"/></g>
</g>
<g clip-path="url(#mapclip)">
<g fill="#030506"><polygon points="86.7,36.7 318.8,36.7 318.3,63.3 313.0,79.3 305.0,97.9 297.0,119.2 286.4,137.9 273.1,156.5 259.7,167.1 246.4,180.5 235.8,199.1 227.8,215.1 217.1,228.4 209.7,239.0 206.0,260.3 199.8,276.3 199.0,289.6 202.5,302.9 206.5,326.9 209.2,339.9 214.5,346.0 216.3,369.9 217.1,409.9 209.7,425.8 198.5,436.5 182.5,444.5 171.9,463.1 155.9,476.4 154.6,487.1 161.2,505.7 162.8,532.3 156.4,545.7 139.9,552.3 133.3,561.6 134.9,574.9 129.3,596.2 118.6,610.9 110.6,622.9 86.7,622.9"/><polygon points="303.7,364.6 307.7,372.6 310.9,383.2 313.0,396.6 316.2,412.5 313.0,420.5 310.3,417.9 307.7,433.8 306.3,444.5 302.3,468.4 297.0,489.7 291.7,513.7 286.4,535.0 282.4,547.0 271.7,555.0 262.9,557.9 253.1,551.5 247.0,536.3 243.2,517.7 241.9,504.4 247.8,487.1 251.8,468.4 249.1,447.1 253.1,428.5 259.7,423.2 273.1,416.5 283.7,407.2 289.6,389.9 298.3,376.6"/><ellipse cx="242.4" cy="360.6" rx="1.3" ry="3.7" transform="rotate(-10 242.4 360.6)"/><ellipse cx="253.1" cy="369.9" rx="1.6" ry="1.3"/><ellipse cx="261.1" cy="377.4" rx="1.1" ry="2.4" transform="rotate(-10 261.1 377.4)"/><ellipse cx="368.1" cy="495.1" rx="2.9" ry="4.8" transform="rotate(-20 368.1 495.1)"/><ellipse cx="389.1" cy="482.3" rx="2.7" ry="4.8" transform="rotate(10 389.1 482.3)"/><polygon points="583.5,59.0 609.9,59.0 609.9,63.0 608.9,65.0 603.9,69.0 601.4,75.0 598.9,80.0 594.9,82.5 590.9,80.5 588.0,75.0 585.0,68.0 583.5,63.0"/><polygon points="619.9,59.0 626.4,59.0 626.4,63.0 628.9,68.0 632.9,77.0 636.9,85.9 638.9,94.9 638.4,101.9 635.4,107.9 629.9,111.4 624.9,112.9 621.4,110.4 618.9,102.9 617.4,92.9 616.4,82.0 617.9,73.0 618.9,67.0 619.9,63.0"/><polygon points="807.8,59.7 824.6,59.7 825.2,70.1 828.7,80.6 831.0,93.4 835.7,98.1 841.5,100.4 847.4,107.4 853.2,115.6 859.0,123.7 861.3,134.2 861.3,145.8 863.7,156.3 867.2,166.8 870.1,176.1 871.8,180.8 876.5,183.1 875.3,187.8 869.5,185.4 864.8,181.4 861.3,177.3 853.2,169.1 846.2,162.2 839.2,154.0 835.7,144.7 832.2,136.5 829.9,127.2 828.7,117.9 826.4,109.7 823.5,103.9 820.6,96.9 815.9,87.6 812.4,83.0 810.7,86.4 808.9,85.3 807.2,76.0"/><polygon points="775.7,116.7 779.8,117.3 789.1,122.6 798.4,123.1 803.1,127.2 807.8,135.4 814.7,143.5 822.9,151.7 828.7,159.8 835.7,166.8 841.5,172.6 849.7,177.3 860.2,184.3 864.8,192.4 859.9,190.0 864.5,197.0 861.0,205.1 871.5,213.3 875.0,227.3 883.2,235.4 886.7,242.4 886.9,259.9 885.7,276.2 882.6,282.0 878.7,283.4 871.5,276.2 864.5,268.0 856.4,258.7 848.2,248.2 840.1,236.6 834.3,224.9 828.4,211.0 822.6,199.3 816.8,190.0 818.2,190.1 814.7,180.8 810.1,171.5 803.1,163.3 798.4,154.0 790.3,143.5 783.3,133.0 777.5,123.7"/><ellipse cx="841.5" cy="169.7" rx="2.6" ry="3.5" transform="rotate(-20 841.5 169.7)"/><ellipse cx="870.1" cy="191.9" rx="3.5" ry="5.2" transform="rotate(-20 870.1 191.9)"/><ellipse cx="877.6" cy="186.6" rx="2.1" ry="3.5" transform="rotate(20 877.6 186.6)"/><ellipse cx="871.5" cy="197.0" rx="2.6" ry="5.8" transform="rotate(20 871.5 197.0)"/><polygon points="879.7,222.6 883.2,219.1 889.0,220.3 890.2,228.4 894.8,235.4 892.5,238.9 887.8,236.6 884.3,228.4 879.7,226.1"/><ellipse cx="906.5" cy="237.5" rx="4.7" ry="4.7"/><polygon points="781.0,155.7 783.3,155.2 789.7,161.6 788.5,163.3"/><polygon points="794.9,176.7 797.9,176.1 804.3,186.6 803.3,188.9 800.2,186.6"/><polygon points="807.5,194.7 813.3,194.1 810.4,205.1 808.6,204.6"/><polygon points="811.0,211.5 814.5,210.4 818.5,222.6 816.2,223.8 812.7,218.0"/><polygon points="820.9,224.9 823.2,224.7 830.8,241.2 829.6,243.8 826.1,238.9"/><polygon points="846.8,271.8 848.2,270.9 850.6,272.9 849.2,274.1"/><polygon points="1001.8,93.5 1005.3,101.6 1011.1,112.1 1018.1,116.8 1023.9,121.4 1018.1,126.1 1013.5,128.4 1017.0,131.9 1010.0,136.6 1006.5,144.7 1007.6,155.2 1012.3,165.7 1010.0,171.5 1020.4,182.0 1015.8,184.3 1011.1,183.2 1007.6,189.0 1006.5,200.6 1006.5,205.8 1001.8,211.6 994.8,221.0 993.7,234.9 994.2,246.6 991.9,252.4 990.2,246.6 984.3,251.2 976.2,255.9 975.0,245.4 964.5,241.9 955.2,243.1 947.7,246.6 947.1,239.6 938.9,238.4 930.8,236.1 930.2,229.1 928.4,217.5 923.8,209.3 919.1,200.0 920.3,201.8 918.0,186.7 919.1,176.2 923.8,169.2 928.4,172.7 938.9,175.0 941.2,159.9 945.9,156.4 955.2,154.1 962.2,148.2 969.2,134.3 978.5,126.1 986.7,119.1 991.3,109.8 997.2,100.5"/><ellipse cx="910.0" cy="141.2" rx="2.1" ry="4.0" transform="rotate(10 910.0 141.2)"/><ellipse cx="890.6" cy="151.1" rx="1.4" ry="2.1"/><ellipse cx="917.4" cy="157.6" rx="0.9" ry="2.9" transform="rotate(-15 917.4 157.6)"/><polygon points="878.5,290.2 883.2,283.2 887.8,279.7 890.0,280.4 899.3,280.4 911.0,286.2 915.6,292.0 924.9,293.2 933.1,294.3 935.4,287.4 940.1,286.8 944.7,290.8 954.1,293.2 957.6,297.8 959.9,302.5 969.2,303.7 973.9,307.2 976.4,312.0 975.3,320.0 971.5,316.5 964.5,313.0 955.2,314.1 944.7,313.0 936.6,310.6 928.4,307.2 920.3,303.7 908.6,304.8 899.3,301.3 890.0,295.5 890.2,292.5 883.2,291.3"/><polygon points="957.0,293.8 970.4,293.2 970.9,295.5 964.5,297.3 958.1,296.7"/><polygon points="976.8,311.8 982.0,309.5 986.7,313.6 984.9,318.2 979.7,316.5"/><polygon points="990.2,314.1 994.8,311.8 997.2,316.5 994.8,321.1 989.6,320.0"/><polygon points="998.9,316.5 1004.1,313.6 1008.8,310.6 1013.5,311.8 1018.1,313.6 1022.8,311.8 1023.4,318.8 1015.8,320.0 1008.8,321.1 1001.8,324.0 998.3,321.1"/><ellipse cx="1023.9" cy="331.0" rx="2.9" ry="2.6"/><ellipse cx="956.0" cy="277.7" rx="1.2" ry="1.2"/><polygon points="982.6,292.6 984.9,292.0 989.0,296.1 987.8,297.3"/><polygon points="1026.3,222.1 1022.2,229.1 1019.3,236.1 1021.0,245.4 1026.3,247.2"/><polygon points="874.7,59.7 887.5,59.7 882.3,67.8 878.8,74.8 875.3,76.0"/><polygon points="1012.9,63.3 1017.7,64.6 1008.9,78.0 1002.7,89.9 999.6,99.3 998.2,89.9 1002.2,79.3 1007.5,70.0"/><ellipse cx="751.4" cy="67.3" rx="0.8" ry="1.6"/><ellipse cx="757.3" cy="81.9" rx="1.1" ry="2.7" transform="rotate(-10 757.3 81.9)"/><ellipse cx="761.3" cy="96.6" rx="0.8" ry="2.7" transform="rotate(-10 761.3 96.6)"/><ellipse cx="761.4" cy="95.8" rx="0.9" ry="3.5" transform="rotate(-10 761.4 95.8)"/><polygon points="1035.0,478.5 1025.2,479.1 1021.1,479.7 1014.1,484.3 1004.8,489.0 999.0,486.7 993.2,491.3 986.2,496.0 980.4,500.6 972.2,504.7 968.7,511.1 966.4,518.1 967.6,527.4 965.2,535.0 964.9,540.0 966.3,556.3 970.3,575.0 975.6,593.6 980.4,615.0 1035.0,615.0"/></g><g fill="none" stroke="#3a3a3a" stroke-width="0.5" opacity="0.75"><ellipse cx="552" cy="99" rx="1" ry="1.8"/><ellipse cx="553" cy="104" rx="1" ry="1.8"/><ellipse cx="551" cy="110" rx="1" ry="1.8"/><ellipse cx="553" cy="116" rx="1" ry="1.8"/><ellipse cx="552" cy="121" rx="1" ry="1.8"/><ellipse cx="554" cy="126" rx="1" ry="1.8"/><ellipse cx="552" cy="132" rx="1" ry="1.8"/><ellipse cx="553" cy="138" rx="1" ry="1.8"/><ellipse cx="551" cy="144" rx="1" ry="1.8"/><ellipse cx="553" cy="150" rx="1" ry="1.8"/><ellipse cx="552" cy="156" rx="1" ry="1.8"/><ellipse cx="554" cy="162" rx="1" ry="1.8"/><ellipse cx="553" cy="168" rx="1" ry="1.8"/><ellipse cx="552" cy="172" rx="1" ry="1.8"/><ellipse cx="550" cy="196" rx="1" ry="1.8"/><ellipse cx="551" cy="207" rx="1" ry="1.8"/><ellipse cx="548" cy="140" rx="1" ry="1.8"/><ellipse cx="556" cy="148" rx="1" ry="1.8"/></g><g fill="#e2e2e2"><polygon points="122.6,207.1 126.6,196.4 137.3,192.4 146.6,195.1 154.0,200.4 148.5,207.1 145.8,220.4 140.5,228.4 129.8,232.6 124.0,223.1"/><polygon points="165.5,131.2 167.6,131.2 168.2,143.2 171.4,153.8 174.5,161.8 172.4,162.4 168.7,154.4 165.8,143.7"/><polygon points="110.6,175.1 116.5,165.0 119.2,166.1 113.3,180.5"/><polygon points="110.6,302.9 113.3,302.9 117.6,318.4 114.9,318.9"/><polygon points="122.6,302.9 125.3,302.4 134.1,313.6 131.9,315.2"/><polygon points="145.3,329.6 148.5,329.6 151.1,339.9 147.9,339.9"/><polygon points="144.7,331.3 149.5,331.6 153.8,340.6 156.4,359.3 155.1,377.9 158.6,393.4 165.0,409.9 165.5,415.7 162.8,414.7 155.4,397.1 151.1,380.6 150.6,359.3 147.9,342.0"/><polygon points="185.7,104.6 187.9,105.1 184.7,115.2 182.5,114.7"/><polygon points="113.3,416.5 131.9,414.7 131.9,416.8 113.8,419.2"/><polygon points="193.7,87.3 196.4,76.6 198.5,77.4 195.3,92.1"/></g>
</g>
<g fill="#6cc24a"><circle cx="619.3" cy="113.5" r="1.8"/><circle cx="619.3" cy="118.2" r="1.8"/><circle cx="619.3" cy="122.9" r="1.8"/><circle cx="619.3" cy="127.7" r="1.8"/><circle cx="619.3" cy="132.4" r="1.8"/><circle cx="619.3" cy="137.1" r="1.8"/><circle cx="619.3" cy="141.8" r="1.8"/><circle cx="619.3" cy="146.5" r="1.8"/><circle cx="619.3" cy="151.3" r="1.8"/><circle cx="619.3" cy="156.0" r="1.8"/><circle cx="619.3" cy="160.7" r="1.8"/><circle cx="619.3" cy="165.4" r="1.8"/><circle cx="619.3" cy="170.1" r="1.8"/><circle cx="619.3" cy="174.9" r="1.8"/><circle cx="619.3" cy="179.6" r="1.8"/><circle cx="619.3" cy="184.6" r="1.8"/><circle cx="619.3" cy="188.2" r="1.8"/><circle cx="619.3" cy="191.8" r="1.8"/><circle cx="619.3" cy="195.4" r="1.8"/><circle cx="619.3" cy="199.0" r="1.8"/><circle cx="619.3" cy="202.6" r="1.8"/><circle cx="619.3" cy="206.2" r="1.8"/><circle cx="619.3" cy="209.8" r="1.8"/><circle cx="619.3" cy="215.0" r="1.8"/><circle cx="619.3" cy="219.7" r="1.8"/><circle cx="619.3" cy="224.4" r="1.8"/><circle cx="619.3" cy="229.1" r="1.8"/><circle cx="619.3" cy="233.8" r="1.8"/><circle cx="619.3" cy="238.5" r="1.8"/><circle cx="619.3" cy="246.3" r="1.8"/><circle cx="619.3" cy="253.4" r="1.8"/><circle cx="619.3" cy="260.4" r="1.8"/><circle cx="619.3" cy="267.5" r="1.8"/><circle cx="619.3" cy="274.5" r="1.8"/><circle cx="619.3" cy="281.6" r="1.8"/><circle cx="619.3" cy="288.6" r="1.8"/><circle cx="619.3" cy="295.7" r="1.8"/><circle cx="619.3" cy="302.7" r="1.8"/><circle cx="619.3" cy="309.8" r="1.8"/><circle cx="619.3" cy="316.8" r="1.8"/><circle cx="619.3" cy="323.9" r="1.8"/><circle cx="619.3" cy="330.9" r="1.8"/><circle cx="619.3" cy="338.0" r="1.8"/><circle cx="619.3" cy="345.0" r="1.8"/><circle cx="619.3" cy="352.1" r="1.8"/><circle cx="619.3" cy="359.1" r="1.8"/><circle cx="619.3" cy="366.2" r="1.8"/><circle cx="619.3" cy="373.2" r="1.8"/><circle cx="619.3" cy="380.3" r="1.8"/><circle cx="619.3" cy="387.3" r="1.8"/><circle cx="619.3" cy="394.4" r="1.8"/><circle cx="619.3" cy="401.4" r="1.8"/><circle cx="619.3" cy="408.5" r="1.8"/><circle cx="619.3" cy="415.5" r="1.8"/><circle cx="619.3" cy="422.6" r="1.8"/><circle cx="619.3" cy="429.6" r="1.8"/><circle cx="619.3" cy="436.7" r="1.8"/><circle cx="619.3" cy="443.7" r="1.8"/><circle cx="619.3" cy="450.8" r="1.8"/><circle cx="619.3" cy="457.8" r="1.8"/><circle cx="619.3" cy="464.9" r="1.8"/><circle cx="619.3" cy="471.9" r="1.8"/><circle cx="619.3" cy="479.0" r="1.8"/><circle cx="619.3" cy="486.0" r="1.8"/></g>
<rect x="110.0" y="62.3" width="917.0" height="550.1" fill="none" stroke="#000" stroke-width="2.9"/><path d="M126.1 62.3v-5.5 M126.1 612.4v5.5 M167.2 62.3v-5.5 M167.2 612.4v5.5 M208.4 62.3v-11.5 M208.4 612.4v11.5 M249.6 62.3v-5.5 M249.6 612.4v5.5 M290.7 62.3v-5.5 M290.7 612.4v5.5 M331.9 62.3v-5.5 M331.9 612.4v5.5 M373.0 62.3v-5.5 M373.0 612.4v5.5 M414.2 62.3v-11.5 M414.2 612.4v11.5 M455.4 62.3v-5.5 M455.4 612.4v5.5 M496.5 62.3v-5.5 M496.5 612.4v5.5 M537.7 62.3v-5.5 M537.7 612.4v5.5 M578.8 62.3v-5.5 M578.8 612.4v5.5 M620.0 62.3v-11.5 M620.0 612.4v11.5 M661.2 62.3v-5.5 M661.2 612.4v5.5 M702.3 62.3v-5.5 M702.3 612.4v5.5 M743.5 62.3v-5.5 M743.5 612.4v5.5 M784.6 62.3v-5.5 M784.6 612.4v5.5 M825.8 62.3v-11.5 M825.8 612.4v11.5 M867.0 62.3v-5.5 M867.0 612.4v5.5 M908.1 62.3v-5.5 M908.1 612.4v5.5 M949.3 62.3v-5.5 M949.3 612.4v5.5 M990.4 62.3v-5.5 M990.4 612.4v5.5 M110.0 83.7h-5.5 M1027.0 83.7h5.5 M110.0 111.9h-5.5 M1027.0 111.9h5.5 M110.0 140.1h-5.5 M1027.0 140.1h5.5 M110.0 168.3h-5.5 M1027.0 168.3h5.5 M110.0 196.5h-11.5 M1027.0 196.5h11.5 M110.0 224.7h-5.5 M1027.0 224.7h5.5 M110.0 252.9h-5.5 M1027.0 252.9h5.5 M110.0 281.1h-5.5 M1027.0 281.1h5.5 M110.0 309.3h-5.5 M1027.0 309.3h5.5 M110.0 337.5h-11.5 M1027.0 337.5h11.5 M110.0 365.7h-5.5 M1027.0 365.7h5.5 M110.0 393.9h-5.5 M1027.0 393.9h5.5 M110.0 422.1h-5.5 M1027.0 422.1h5.5 M110.0 450.3h-5.5 M1027.0 450.3h5.5 M110.0 478.5h-11.5 M1027.0 478.5h11.5 M110.0 506.7h-5.5 M1027.0 506.7h5.5 M110.0 534.9h-5.5 M1027.0 534.9h5.5 M110.0 563.1h-5.5 M1027.0 563.1h5.5 M110.0 591.3h-5.5 M1027.0 591.3h5.5" stroke="#000" stroke-width="2" fill="none"/>
<g font-size="28.9">
<text x="208.4" y="652.6" text-anchor="middle">40°E</text>
<text x="414.2" y="652.6" text-anchor="middle">60°E</text>
<text x="620.0" y="652.6" text-anchor="middle">80°E</text>
<text x="825.8" y="652.6" text-anchor="middle">100°E</text>
<text x="91" y="207.0" text-anchor="end">0°</text>
<text x="91" y="348.0" text-anchor="end">10°S</text>
<text x="91" y="489.0" text-anchor="end">20°S</text>
</g>
<text class="ser" x="135" y="33.3" font-size="44.6" textLength="1020" lengthAdjust="spacingAndGlyphs">Salinity anomaly formed by interannual anomolous currents</text>
<text x="0" y="35.2" font-size="28.6" font-weight="bold" stroke-width="0.2">A</text>
<text class="ser" x="98.7" y="749.2" font-size="44.6" textLength="859" lengthAdjust="spacingAndGlyphs">Heat flux anomalies off the west coast of Australia</text>
<text x="0" y="747.8" font-size="28.6" font-weight="bold" stroke-width="0.2">B</text>
<rect x="1072.5" y="584.31" width="23.799999999999955" height="27.98" fill="#27286a"/>
<rect x="1072.5" y="556.83" width="23.799999999999955" height="27.98" fill="#25387a"/>
<rect x="1072.5" y="529.35" width="23.799999999999955" height="27.98" fill="#1b4e8a"/>
<rect x="1072.5" y="501.86" width="23.799999999999955" height="27.98" fill="#176496"/>
<rect x="1072.5" y="474.38" width="23.799999999999955" height="27.98" fill="#2273a3"/>
<rect x="1072.5" y="446.89" width="23.799999999999955" height="27.98" fill="#468bb5"/>
<rect x="1072.5" y="419.40" width="23.799999999999955" height="27.98" fill="#70a7c8"/>
<rect x="1072.5" y="391.92" width="23.799999999999955" height="27.98" fill="#95bdd7"/>
<rect x="1072.5" y="364.44" width="23.799999999999955" height="27.98" fill="#bcd7e7"/>
<rect x="1072.5" y="336.95" width="23.799999999999955" height="27.98" fill="#e3e8ef"/>
<rect x="1072.5" y="309.46" width="23.799999999999955" height="27.98" fill="#f2dfd5"/>
<rect x="1072.5" y="281.98" width="23.799999999999955" height="27.98" fill="#e8c8b3"/>
<rect x="1072.5" y="254.50" width="23.799999999999955" height="27.98" fill="#dcaa91"/>
<rect x="1072.5" y="227.01" width="23.799999999999955" height="27.98" fill="#d29475"/>
<rect x="1072.5" y="199.53" width="23.799999999999955" height="27.98" fill="#c98059"/>
<rect x="1072.5" y="172.04" width="23.799999999999955" height="27.98" fill="#c06b37"/>
<rect x="1072.5" y="144.56" width="23.799999999999955" height="27.98" fill="#b0522a"/>
<rect x="1072.5" y="117.07" width="23.799999999999955" height="27.98" fill="#8f2f21"/>
<rect x="1072.5" y="89.59" width="23.799999999999955" height="27.98" fill="#7a1a16"/>
<rect x="1072.5" y="62.10" width="23.799999999999955" height="27.98" fill="#5e0e12"/>
<path d="M1072.5 62.1L1084.4 50.2L1096.3 62.1Z" fill="#7a1a16" stroke="#000" stroke-width="3" stroke-linejoin="miter"/>
<path d="M1072.5 611.8L1084.4 623.8L1096.3 611.8Z" fill="#27286a" stroke="#000" stroke-width="3" stroke-linejoin="miter"/>
<rect x="1072.5" y="62.1" width="23.799999999999955" height="549.6999999999999" fill="none" stroke="#000" stroke-width="3"/>
<path d="M1096.3 62.1H1113 M1096.3 199.5H1113 M1096.3 336.9H1113 M1096.3 474.4H1113 M1096.3 611.8H1113" stroke="#000" stroke-width="2" fill="none"/>
<g font-size="33.4" text-anchor="end">
<text x="1205.5" y="74.2">0.50</text>
<text x="1205.5" y="211.6">0.25</text>
<text x="1205.5" y="349.1">0.00</text>
<text x="1205.5" y="486.5">−0.25</text>
<text x="1205.5" y="623.9">−0.50</text>
</g>
<polyline points="199.4,1002.6 288.7,1031.4 377.3,991.5 465.9,1080.0 554.4,1029.0 642.8,1017.0 731.2,981.7 819.8,1057.0 908.2,1053.5" fill="none" stroke="#b5b5b5" stroke-width="1.05" stroke-linejoin="miter"/>
<polyline points="199.4,1021.7 288.7,1023.5 377.3,1060.7 465.9,1000.0 554.4,1016.5 642.8,1022.7 731.2,1058.0 819.8,1026.5 908.2,1014.5" fill="none" stroke="#3b4ea6" stroke-width="1.75" stroke-linejoin="miter"/>
<polyline points="199.4,1040.0 288.7,1009.4 377.3,1137.0 465.9,867.5 554.4,1032.0 642.8,1024.6 731.2,1197.0 819.8,986.0 908.2,946.5" fill="none" stroke="#6abf3f" stroke-width="1.75" stroke-linejoin="miter"/>
<polyline points="199.4,840.0 288.7,971.0 377.3,1254.0 465.9,960.0 554.4,877.5 642.8,1022.5 731.2,1261.5 819.8,1044.5 908.2,1007.0" fill="none" stroke="#ea2027" stroke-width="1.65" stroke-linejoin="miter"/>
<rect x="155.5" y="779.1" width="797.5" height="496.80000000000007" fill="none" stroke="#000" stroke-width="2.8"/>
<path d="M194.9 779.1v-7 M194.9 1275.9v7 M274.6 779.1v-13 M274.6 1275.9v13 M354.4 779.1v-7 M354.4 1275.9v7 M434.1 779.1v-13 M434.1 1275.9v13 M513.9 779.1v-7 M513.9 1275.9v7 M593.6 779.1v-13 M593.6 1275.9v13 M673.4 779.1v-7 M673.4 1275.9v7 M753.1 779.1v-13 M753.1 1275.9v13 M832.9 779.1v-7 M832.9 1275.9v7 M912.6 779.1v-13 M912.6 1275.9v13 M155.5 1275.3h-13 M953.0 1275.3h13 M155.5 1250.5h-7 M953.0 1250.5h7 M155.5 1225.7h-7 M953.0 1225.7h7 M155.5 1200.9h-7 M953.0 1200.9h7 M155.5 1176.1h-7 M953.0 1176.1h7 M155.5 1151.2h-13 M953.0 1151.2h13 M155.5 1126.4h-7 M953.0 1126.4h7 M155.5 1101.6h-7 M953.0 1101.6h7 M155.5 1076.8h-7 M953.0 1076.8h7 M155.5 1052.0h-7 M953.0 1052.0h7 M155.5 1027.2h-13 M953.0 1027.2h13 M155.5 1002.4h-7 M953.0 1002.4h7 M155.5 977.6h-7 M953.0 977.6h7 M155.5 952.8h-7 M953.0 952.8h7 M155.5 928.0h-7 M953.0 928.0h7 M155.5 903.2h-13 M953.0 903.2h13 M155.5 878.3h-7 M953.0 878.3h7 M155.5 853.5h-7 M953.0 853.5h7 M155.5 828.7h-7 M953.0 828.7h7 M155.5 803.9h-7 M953.0 803.9h7 M155.5 779.1h-13 M953.0 779.1h13" stroke="#000" stroke-width="2" fill="none"/>
<g font-size="30.5">
<text x="274.6" y="1318.5" text-anchor="middle">2014</text>
<text x="434.1" y="1318.5" text-anchor="middle">2016</text>
<text x="593.6" y="1318.5" text-anchor="middle">2018</text>
<text x="753.1" y="1318.5" text-anchor="middle">2020</text>
<text x="912.6" y="1318.5" text-anchor="middle">2022</text>
<text x="133" y="790.0" text-anchor="end">10</text>
<text x="133" y="914.1" text-anchor="end">5</text>
<text x="133" y="1038.1" text-anchor="end">0</text>
<text x="133" y="1162.2" text-anchor="end">−5</text>
<text x="133" y="1286.2" text-anchor="end">−10</text>
</g>
<text x="555.5" y="1367" font-size="43.3" text-anchor="middle">Year</text>
<text transform="translate(66.3 1183) rotate(-90)" font-size="44.2" textLength="314.5" lengthAdjust="spacingAndGlyphs">Heat flux (W m<tspan font-size="30" dy="-14">-2</tspan><tspan dy="14">)</tspan></text>
<path d="M722 809H772" stroke="#6abf3f" stroke-width="1.7"/>
<text x="796.5" y="819.5" font-size="30.2">Shortwave</text>
<path d="M722 841.7H772" stroke="#b5b5b5" stroke-width="1.05"/>
<text x="796.5" y="852.2" font-size="30.2">Longwave</text>
<path d="M722 874.4H772" stroke="#3b4ea6" stroke-width="1.7"/>
<text x="796.5" y="884.9" font-size="30.2">Sensible</text>
<path d="M722 907.1H772" stroke="#ea2027" stroke-width="1.7"/>
<text x="796.5" y="917.6" font-size="30.2">Latent</text>
</svg></body></html>
